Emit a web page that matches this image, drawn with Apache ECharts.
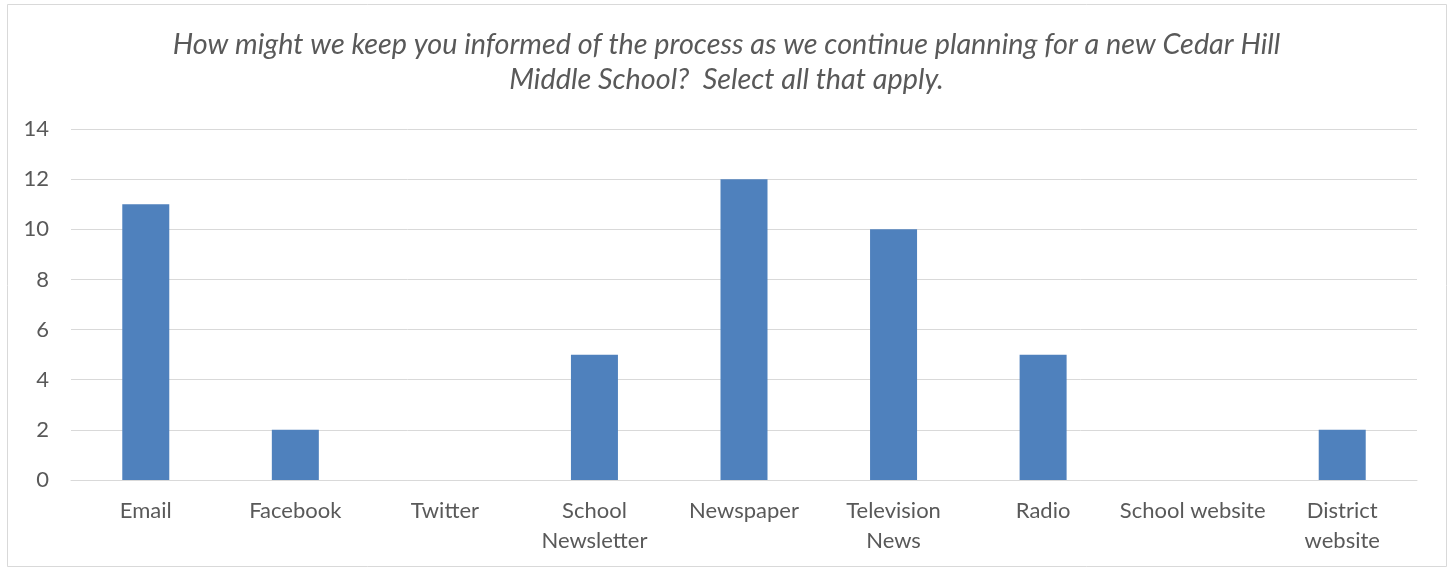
<!DOCTYPE html>
<html><head><meta charset="utf-8">
<script src="https://cdn.jsdelivr.net/npm/echarts@6/dist/echarts.min.js"></script>
<style>html,body{margin:0;padding:0;background:#fff}#c{width:1453px;height:571px}</style>
</head><body><div id="c"></div>
<script>
const titleText = "How might we keep you informed of the process as we continue planning for a new Cedar Hill\nMiddle School?  Select all that apply.";
const categories = ["Email","Facebook","Twitter","School\nNewsletter","Newspaper","Television\nNews","Radio","School website","District\nwebsite"];
const values = [11,2,0,5,12,10,5,0,2];
const yTicks = {min:0,max:14,interval:2};

const chart = echarts.init(document.getElementById('c'));
chart.setOption({
  animation:false,
  backgroundColor:'#fff',
  title:{text:titleText,left:'center',top:22,
    textStyle:{fontFamily:'Lato',fontStyle:'italic',fontWeight:'normal',fontSize:28.8,color:'#595959',lineHeight:35,align:'center'}},
  graphic:[{type:'rect',shape:{x:7.5,y:4.5,width:1439,height:562},style:{fill:'none',stroke:'#d9d9d9',lineWidth:1}}],
  grid:{left:71,right:36,top:129,bottom:91,containLabel:false},
  xAxis:{type:'category',data:categories,
    axisLine:{show:true,lineStyle:{color:'#d9d9d9',width:1}},
    axisTick:{show:false},
    axisLabel:{interval:0,color:'#595959',fontFamily:'Lato',fontSize:22,lineHeight:30,margin:16}},
  yAxis:{type:'value',min:yTicks.min,max:yTicks.max,interval:yTicks.interval,
    axisLine:{show:false},axisTick:{show:false},
    axisLabel:{color:'#595959',fontFamily:'Lato',fontSize:22,margin:22},
    splitLine:{lineStyle:{color:'#d9d9d9',width:1}}},
  series:[{type:'bar',data:values,barWidth:47,itemStyle:{color:'#4F81BD'}}]
});
</script></body></html>
